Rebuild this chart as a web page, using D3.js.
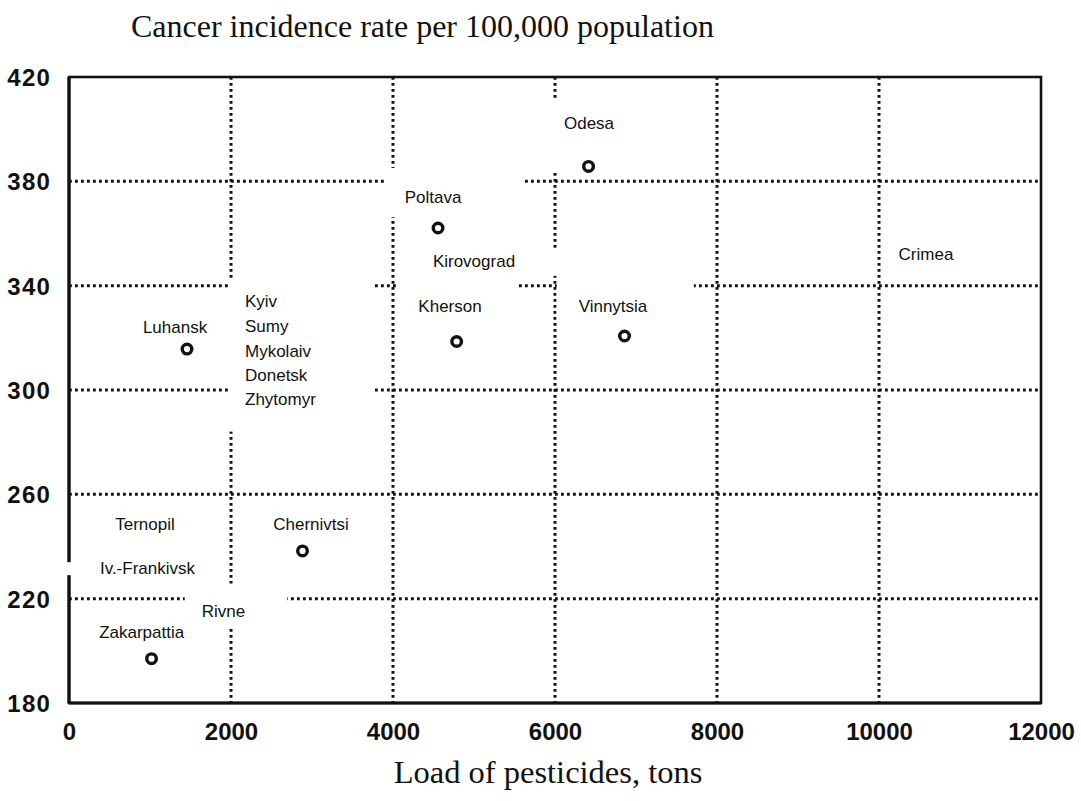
<!DOCTYPE html>
<html><head><meta charset="utf-8">
<script src="https://cdn.jsdelivr.net/npm/d3@7"></script>
<style>body{margin:0;background:#fff}</style>
</head><body>
<svg id="c" width="1081" height="801"></svg>
<script>
// ---- data ----
const xTicks = [0, 2000, 4000, 6000, 8000, 10000, 12000];
const yTicks = [180, 220, 260, 300, 340, 380, 420];

// plotted regions (pesticide load, tons ; cancer incidence per 100,000)
const pointNames = ["Odesa", "Poltava", "Kherson", "Vinnytsia", "Luhansk", "Chernivtsi", "Zakarpattia"];
const pointX     = [6414, 4556, 4786, 6858, 1457, 2883, 1019];
const pointY     = [385.7, 362.1, 318.6, 320.7, 315.7, 238.3, 197.0];

// region labels (anchor in data units)
const labelNames  = ["Odesa", "Poltava", "Kirovograd", "Kherson", "Vinnytsia", "Crimea", "Luhansk",
                     "Kyiv", "Sumy", "Mykolaiv", "Donetsk", "Zhytomyr",
                     "Ternopil", "Iv.-Frankivsk", "Rivne", "Zakarpattia", "Chernivtsi"];
const labelX      = [6420, 4494, 5000, 4704, 6716, 10580, 1309,
                     2173, 2173, 2173, 2173, 2173,
                     938, 969, 1907, 897, 2988];
const labelY      = [400.1, 371.7, 347.2, 329.9, 329.9, 349.8, 321.9,
                     331.8, 322.2, 312.8, 303.6, 294.4,
                     246.3, 229.4, 213.1, 204.9, 246.3];
const labelAnchor = ["middle", "middle", "middle", "middle", "middle", "middle", "middle",
                     "start", "start", "start", "start", "start",
                     "middle", "middle", "middle", "middle", "middle"];

// white paste-over boxes behind labels: which labels, padding [left, top, right, bottom]
const maskGroups = [
  {names: ["Odesa"], pad: [35, 14, 37, 40]},
  {names: ["Poltava"], pad: [20, 20, 62, 10]},
  {names: ["Kirovograd"], pad: [13, 4, 43, 5]},
  {names: ["Kherson"], pad: [22, 17, 36, 5]},
  {names: ["Vinnytsia"], pad: [22, 17, 46, 5]},
  {names: ["Kyiv", "Sumy", "Mykolaiv", "Donetsk", "Zhytomyr"], pad: [17, 14, 57, 23]},
  {names: ["Rivne"], pad: [17, 18, 42, 7]},
  {names: ["Iv.-Frankivsk"], pad: [36, -3, 5, -3]}
];

const yTitle = "Cancer incidence rate per 100,000 population";
const xTitle = "Load of pesticides, tons";

// ---- layout ----
const svg = d3.select("#c");
const L = 69, R = 1041, T = 77, B = 703;
const x = d3.scaleLinear().domain([0, 12000]).range([L, R]);
const y = d3.scaleLinear().domain([180, 420]).range([B, T]);
const ink = "#111";

// grid
const grid = svg.append("g");
grid.selectAll("line.v").data(xTicks.filter(d => d > 0 && d < 12000)).join("line")
  .attr("x1", d => x(d)).attr("x2", d => x(d)).attr("y1", T).attr("y2", B)
  .attr("stroke", ink).attr("stroke-width", 3).attr("stroke-dasharray", "2.8 3.2");
grid.selectAll("line.h").data(yTicks.filter(d => d > 180 && d < 420)).join("line")
  .attr("x1", L).attr("x2", R).attr("y1", d => y(d)).attr("y2", d => y(d))
  .attr("stroke", ink).attr("stroke-width", 3).attr("stroke-dasharray", "2.8 3.2");

// frame
svg.append("rect").attr("x", L).attr("y", T).attr("width", R - L).attr("height", B - T)
  .attr("fill", "none").attr("stroke", ink).attr("stroke-width", 2.6);
svg.append("line").attr("x1", L).attr("x2", L).attr("y1", T).attr("y2", B)
  .attr("stroke", ink).attr("stroke-width", 3.2);
svg.append("line").attr("x1", L).attr("x2", R).attr("y1", B).attr("y2", B)
  .attr("stroke", ink).attr("stroke-width", 3.2);

// axes tick labels
const xAxis = svg.append("g").attr("transform", `translate(0,${B + 26})`)
  .call(d3.axisBottom(x).tickValues(xTicks).tickSize(0).tickFormat(d3.format("d")));
xAxis.select(".domain").remove();
xAxis.selectAll("text").attr("font-family", "Liberation Sans, Arial, sans-serif")
  .attr("font-weight", "bold").attr("font-size", 24).attr("fill", ink).attr("dy", "0.32em");

const yAxis = svg.append("g").attr("transform", `translate(${L - 15},0)`)
  .call(d3.axisLeft(y).tickValues(yTicks).tickSize(0).tickFormat(d3.format("d")));
yAxis.select(".domain").remove();
yAxis.selectAll("text").attr("font-family", "Liberation Sans, Arial, sans-serif")
  .attr("font-weight", "bold").attr("font-size", 24).attr("fill", ink)
  .attr("letter-spacing", 1.2).attr("dy", "0.36em");

// labels (drawn first to measure, masks inserted below them)
const maskLayer = svg.append("g");
const labelLayer = svg.append("g");
const labels = labelLayer.selectAll("text").data(labelNames).join("text")
  .attr("x", (d, i) => x(labelX[i])).attr("y", (d, i) => y(labelY[i]))
  .attr("text-anchor", (d, i) => labelAnchor[i])
  .attr("font-family", "Liberation Sans, Arial, sans-serif").attr("font-size", 17)
  .attr("fill", ink).text(d => d);

const boxes = {};
labels.each(function(d) { boxes[d] = this.getBBox(); });
maskGroups.forEach(g => {
  const bs = g.names.map(n => boxes[n]);
  const x0 = d3.min(bs, b => b.x) - g.pad[0];
  const y0 = d3.min(bs, b => b.y) - g.pad[1];
  const x1 = d3.max(bs, b => b.x + b.width) + g.pad[2];
  const y1 = d3.max(bs, b => b.y + b.height) + g.pad[3];
  maskLayer.append("rect").attr("x", x0).attr("y", y0)
    .attr("width", x1 - x0).attr("height", y1 - y0).attr("fill", "#fff");
});

// points
svg.append("g").selectAll("circle").data(pointNames).join("circle")
  .attr("cx", (d, i) => x(pointX[i])).attr("cy", (d, i) => y(pointY[i]))
  .attr("r", 4.8).attr("fill", "#fff").attr("stroke", ink).attr("stroke-width", 3.4);

// titles
svg.append("text").attr("x", 131).attr("y", 37)
  .attr("font-family", "Liberation Serif, Times New Roman, serif").attr("font-size", 32)
  .attr("fill", ink).text(yTitle);
svg.append("text").attr("x", 548).attr("y", 783).attr("text-anchor", "middle")
  .attr("font-family", "Liberation Serif, Times New Roman, serif").attr("font-size", 32.5)
  .attr("fill", ink).text(xTitle);
</script>
</body></html>
